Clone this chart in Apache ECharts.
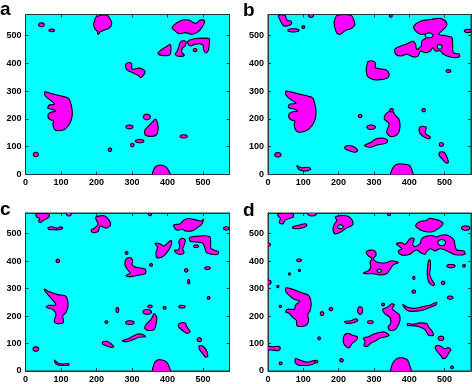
<!DOCTYPE html>
<html><head><meta charset="utf-8">
<script src="https://cdn.jsdelivr.net/npm/echarts@6/dist/echarts.min.js"></script>
<style>html,body{margin:0;padding:0;background:#fff;}#c{width:472px;height:384px;}</style>
</head><body><div id="c"></div>
<script>
// ---- data (x, y in map units 0..575) ----
const panelLabels = ['a', 'b', 'c', 'd'];
const tickValues = [0, 100, 200, 300, 400, 500];

// Panel a
const polysA = [
  [[200,568],[230,572],[240,555],[243,540],[235,525],[220,518],[210,512],[205,503],[202,515],[195,525],[192,540],[195,555]],
  [[413,528],[436,552],[460,555],[479,543],[493,555],[505,553],[497,528],[483,510],[469,504],[450,510],[432,506],[422,516]],
  [[380,445],[395,458],[408,467],[410,450],[407,430],[385,428],[373,435]],
  [[440,480],[452,478],[450,462],[443,455],[440,440],[448,428],[430,425],[422,432],[428,445],[432,460],[435,472]],
  [[458,480],[475,488],[500,490],[518,488],[518,470],[515,445],[508,437],[502,448],[500,465],[490,470],[478,468],[465,462],[458,470]],
  [[284,398],[295,402],[300,392],[298,382],[305,378],[315,382],[328,380],[337,370],[333,358],[325,348],[318,356],[308,362],[298,368],[287,375],[282,388]],
  [[54,297],[68,293],[91,285],[110,279],[122,273],[129,249],[132,220],[129,196],[122,178],[110,162],[91,157],[82,162],[77,181],[79,193],[68,198],[63,214],[70,223],[85,227],[75,234],[63,238],[66,249],[82,253],[70,267],[56,282]],
  [[367,199],[374,170],[367,140],[339,140],[336,158],[348,176],[357,188]],
  [[359,-5],[362,20],[372,32],[385,33],[398,25],[405,10],[408,-5]]
];
const ellipsesA = [[45,538,8,7],[74,518,8,5],[342,207,10,10],[293,171,10,7],[322,120,12,6],[301,106,5,6],[238,89,5,6],[446,137,10,6],[29,72,7,8],[478,447,5,6]];
const holesA = [];

// Panel b
const polysB = [
  [[29,572],[48,572],[52,560],[55,553],[64,552],[67,542],[57,535],[45,534],[39,543],[34,556]],
  [[196,572],[235,572],[243,555],[246,538],[236,525],[220,518],[205,504],[195,508],[190,525],[187,545],[190,560]],
  [[413,533],[432,551],[460,557],[483,561],[497,557],[507,539],[497,521],[483,504],[507,498],[521,492],[523,468],[525,438],[542,432],[542,422],[516,422],[497,432],[488,444],[474,444],[467,456],[460,444],[446,438],[432,444],[425,426],[413,422],[394,432],[376,426],[362,432],[359,450],[376,462],[394,470],[411,480],[418,468],[421,450],[434,462],[436,480],[450,494],[446,504],[432,504],[418,516]],
  [[283,405],[297,408],[305,398],[303,385],[315,380],[330,378],[340,370],[343,355],[335,345],[310,340],[295,342],[282,352],[278,375],[280,392]],
  [[50,299],[67,296],[92,288],[112,282],[126,276],[133,252],[136,222],[133,196],[125,176],[112,160],[92,152],[80,157],[74,178],[76,192],[64,197],[58,214],[66,224],[84,228],[72,236],[58,240],[60,252],[80,256],[66,268],[52,284]],
  [[350,230],[334,218],[329,200],[343,182],[336,152],[348,136],[366,143],[374,169],[371,199],[362,211],[355,223]],
  [[273,104],[292,116],[306,128],[325,131],[339,122],[334,112],[311,107],[292,98]],
  [[218,100],[230,104],[245,98],[254,85],[245,80],[230,85],[218,93]],
  [[431,172],[448,170],[445,148],[460,134],[455,128],[436,140],[428,157]],
  [[486,80],[499,80],[507,62],[511,44],[505,41],[496,52],[485,68]],
  [[82,32],[95,24],[114,26],[121,20],[114,14],[95,14],[86,20]],
  [[348,-5],[352,20],[362,35],[380,38],[400,33],[408,15],[410,-5]]
];
const ellipsesB = [[72,518,16,6],[100,530,4,5],[122,572,7,7],[348,570,4,5],[566,516,10,6],[511,372,7,5],[261,210,5,6],[350,231,5,6],[292,170,12,8],[441,231,5,6],[491,108,6,7],[28,71,9,8]];
const holesB = [[456,500,11,9],[486,459,7,8]];

// Panel c
const polysC = [
  [[30,572],[65,572],[67,562],[60,555],[50,548],[42,540],[37,545],[40,555],[32,560]],
  [[63,521],[75,525],[88,520],[100,525],[105,520],[95,514],[75,514],[65,516]],
  [[198,560],[222,565],[235,550],[240,532],[227,520],[210,527],[205,508],[190,504],[185,512],[196,522],[205,535],[200,548]],
  [[418,532],[435,535],[445,548],[460,555],[480,550],[495,546],[502,553],[497,535],[485,522],[470,510],[450,510],[440,517],[430,512],[420,520]],
  [[410,476],[400,465],[390,455],[380,462],[365,465],[372,450],[368,432],[370,413],[385,415],[398,430],[408,450],[412,465]],
  [[440,483],[450,478],[448,460],[443,445],[447,430],[435,424],[425,430],[420,440],[430,440],[435,455],[432,470]],
  [[462,485],[480,490],[505,492],[520,488],[522,470],[522,450],[530,440],[544,435],[542,425],[525,425],[510,432],[505,450],[500,465],[490,468],[475,470],[465,472]],
  [[284,408],[297,412],[302,400],[300,388],[310,378],[325,375],[338,370],[338,355],[325,350],[305,345],[290,343],[283,348],[295,356],[287,370],[280,388]],
  [[53,298],[68,288],[91,278],[114,272],[120,237],[114,213],[105,201],[107,177],[91,172],[81,180],[86,207],[77,224],[58,232],[67,239],[86,241],[72,265],[56,289]],
  [[362,209],[370,195],[368,170],[362,150],[345,148],[336,155],[340,170],[352,185],[358,198]],
  [[432,172],[450,175],[455,160],[464,143],[455,137],[441,149],[432,160]],
  [[273,110],[290,118],[305,128],[318,135],[335,130],[338,125],[320,123],[305,115],[292,108],[280,107]],
  [[217,105],[230,108],[240,100],[249,88],[240,86],[228,92],[218,97]],
  [[490,92],[500,90],[510,75],[514,55],[508,50],[500,62],[490,80]],
  [[82,40],[90,30],[105,25],[120,28],[123,22],[110,20],[92,22],[83,30]],
  [[360,-5],[362,25],[372,40],[385,40],[398,32],[405,15],[408,-5]]
];
const ellipsesC = [[122,572,7,8],[351,570,4,5],[566,519,8,6],[481,454,7,5],[285,430,4,5],[91,401,5,6],[354,386,4,5],[453,366,5,6],[460,325,3,8],[513,374,8,5],[516,266,4,5],[259,222,4,9],[351,235,6,5],[343,215,12,9],[392,230,4,5],[441,234,9,5],[228,178,4,5],[294,176,12,7],[490,114,6,7],[29,80,8,8]];
const holesC = [];

// Panel d
const polysD = [
  [[28,572],[70,572],[72,560],[60,555],[48,548],[42,535],[32,540],[35,555],[30,562]],
  [[70,525],[85,530],[100,535],[108,535],[110,528],[95,520],[78,518],[70,520]],
  [[190,560],[210,566],[228,562],[240,545],[238,530],[222,520],[205,505],[190,499],[184,515],[188,535],[195,548]],
  [[418,530],[432,545],[447,547],[458,556],[472,552],[487,547],[496,536],[484,520],[468,508],[452,506],[437,510],[424,520]],
  [[363,463],[379,467],[388,461],[404,483],[414,481],[410,461],[416,452],[431,464],[435,481],[448,490],[464,493],[478,488],[487,493],[501,496],[516,490],[527,476],[530,455],[535,440],[555,437],[558,425],[530,423],[516,431],[504,439],[487,445],[473,437],[461,445],[451,437],[445,425],[431,431],[423,440],[414,437],[402,425],[388,421],[374,425],[369,437],[379,445]],
  [[278,433],[291,440],[303,436],[306,421],[298,409],[306,398],[322,393],[336,395],[350,401],[369,395],[355,386],[346,371],[336,354],[317,350],[298,354],[280,354],[270,357],[284,365],[291,377],[289,395],[294,409],[284,419]],
  [[456,405],[460,400],[460,375],[458,350],[465,330],[472,315],[466,311],[455,325],[451,350],[452,380]],
  [[52,303],[70,297],[95,285],[115,275],[122,250],[120,222],[113,205],[115,185],[110,168],[95,162],[82,165],[80,185],[70,195],[60,210],[50,215],[55,225],[75,225],[78,240],[90,255],[75,260],[60,275],[50,290]],
  [[217,180],[235,183],[250,190],[254,183],[240,175],[222,174]],
  [[350,245],[358,240],[352,228],[362,215],[372,205],[374,185],[368,165],[360,150],[345,148],[340,160],[348,175],[345,195],[330,210],[325,225],[338,232]],
  [[382,242],[395,232],[415,228],[440,235],[460,240],[478,250],[475,240],[460,232],[440,222],[420,218],[400,218],[388,228]],
  [[395,173],[410,170],[430,175],[450,172],[455,160],[465,145],[468,130],[455,130],[445,150],[430,160],[410,165],[396,165]],
  [[216,130],[225,137],[240,130],[253,125],[250,112],[238,100],[230,85],[218,92],[213,110]],
  [[270,120],[285,125],[300,135],[315,140],[330,142],[343,130],[335,125],[318,120],[305,110],[290,100],[282,90],[272,92],[275,108]],
  [[-5,90],[15,88],[30,90],[35,82],[28,74],[15,76],[-5,78]],
  [[78,45],[90,40],[100,35],[115,33],[130,38],[134,30],[120,22],[100,20],[85,22],[77,32]],
  [[350,-5],[352,25],[365,45],[380,48],[395,40],[400,25],[405,-5]],
  [[476,92],[490,90],[500,80],[510,85],[518,78],[512,65],[505,50],[495,45],[490,55],[480,70],[474,82]]
];
const ellipsesD = [[125,572,12,8],[343,570,4,5],[560,520,12,8],[0,460,7,6],[518,382,12,6],[555,383,4,5],[88,403,7,5],[89,366,3,4],[61,353,3,4],[413,339,3,6],[496,321,5,6],[413,289,5,6],[0,323,9,8],[28,307,3,4],[35,235,3,4],[153,209,5,7],[178,225,5,6],[261,220,7,14],[290,178,8,6],[326,242,4,5],[516,267,8,6],[145,119,4,5],[490,119,8,8],[36,28,4,5],[137,34,4,5],[208,39,5,6],[521,13,4,5]];
const holesD = [[205,525,8,7],[492,467,11,11],[315,365,6,6]];

const axisMax = 575;

// ---- build ----
const panels = [
  {polys: polysA, ell: ellipsesA, holes: holesA},
  {polys: polysB, ell: ellipsesB, holes: holesB},
  {polys: polysC, ell: ellipsesC, holes: holesC},
  {polys: polysD, ell: ellipsesD, holes: holesD}
];
const gridPos = [
  {left: 25.5, top: 14.5, width: 204, height: 160},
  {left: 268, top: 14.5, width: 203, height: 160},
  {left: 25.5, top: 213, width: 204, height: 161},
  {left: 268, top: 213, width: 203, height: 161}
];
const labelPos = [[0, 17], [243, 18], [0, 217], [243, 218]];

const CYAN = '#00ffff', MAG = '#ff00ff', EDGE = '#1f3b3b';
const font = "'Liberation Sans', Arial, sans-serif";

function ellipsePts(e) {
  const pts = [];
  for (let k = 0; k < 24; k++) {
    const a = k / 24 * Math.PI * 2;
    pts.push([e[0] + e[2] * Math.cos(a), e[1] + e[3] * Math.sin(a)]);
  }
  return pts;
}

const grid = [], xAxis = [], yAxis = [], series = [];
panels.forEach((p, gi) => {
  grid.push(Object.assign({show: true, backgroundColor: CYAN, borderColor: EDGE, borderWidth: 1}, gridPos[gi]));
  const base = {gridIndex: gi, type: 'value', min: 0, max: axisMax, interval: 100, splitLine: {show: false},
    axisLine: {show: true, onZero: false, lineStyle: {color: EDGE, width: 1}},
    axisTick: {show: true, inside: true, length: 3, lineStyle: {color: EDGE}}};
  const lab = {show: true, fontSize: 9, fontWeight: 'bold', color: '#000', fontFamily: font, margin: 4, showMaxLabel: false};
  xAxis.push(Object.assign({}, base, {position: 'bottom', axisLabel: lab}));
  xAxis.push(Object.assign({}, base, {position: 'top', axisLabel: {show: false}}));
  yAxis.push(Object.assign({}, base, {position: 'left', axisLabel: Object.assign({}, lab, {margin: 4})}));
  yAxis.push(Object.assign({}, base, {position: 'right', axisLabel: {show: false}}));
  const shapes = [];
  p.polys.forEach(pts => shapes.push({pts: pts, smooth: 0.3, fill: MAG}));
  p.ell.forEach(e => shapes.push({pts: ellipsePts(e), smooth: 0, fill: MAG}));
  p.holes.forEach(e => shapes.push({pts: ellipsePts(e), smooth: 0, fill: CYAN}));
  series.push({
    type: 'custom', xAxisIndex: gi * 2, yAxisIndex: gi * 2, clip: true, silent: true,
    data: shapes.map((s, i) => [s.pts[0][0], s.pts[0][1], i]),
    renderItem: function (params, api) {
      const s = shapes[params.dataIndex];
      return {type: 'polygon', shape: {points: s.pts.map(q => api.coord(q)), smooth: s.smooth},
        style: {fill: s.fill, stroke: '#000', lineWidth: 1.1}};
    }
  });
});

const graphic = panelLabels.map((t, i) => ({type: 'text', left: labelPos[i][0], top: labelPos[i][1] - 17,
  style: {text: t, font: 'bold 19px ' + font, fill: '#000'}}));

const chart = echarts.init(document.getElementById('c'), null, {renderer: 'canvas'});
chart.setOption({animation: false, grid, xAxis, yAxis, series, graphic});
</script></body></html>
